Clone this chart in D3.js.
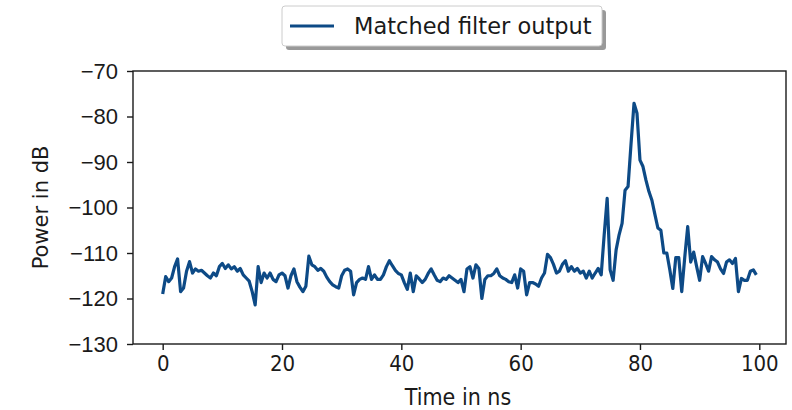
<!DOCTYPE html>
<html>
<head>
<meta charset="utf-8">
<script src="https://cdn.jsdelivr.net/npm/d3@7"></script>
<style>
  html, body { margin: 0; padding: 0; background: #fff; }
  svg { display: block; }
</style>
</head>
<body>
<svg id="chart"></svg>
<script>
// sampled every 0.5 ns, 0 .. 99.5
const sampleStep = 0.5;
const powerDb = [
  -119, -115.2, -116.3, -115.5, -113, -111.3, -118.5, -117.7, -114, -111.9,
  -114.4, -113.5, -114, -113.8, -114.4, -115, -115.5, -114.4, -115, -113,
  -112.3, -113.4, -112.6, -113.5, -113, -114, -113.4, -114.8, -115.5, -116.2,
  -118.5, -121.4, -113, -116.5, -114.4, -115.5, -114.4, -115.8, -116.3, -114.8,
  -114.4, -115, -117.7, -115, -113.5, -116.3, -117.5, -118.5, -117.3, -110.7,
  -112.6, -113, -113.8, -113.4, -114, -115.3, -116.3, -117, -117.4, -117.7,
  -115, -113.8, -113.5, -114, -119.2, -116.5, -115.8, -115.5, -115.8, -113,
  -115.8, -114.8, -115.8, -115.8, -114.8, -113, -111.7, -112.8, -113.8, -114.5,
  -114.8, -116.5, -118, -114.4, -118.5, -115, -115.7, -116.5, -115.8, -114.5,
  -113.5, -114.8, -116, -116.3, -115.5, -115.8, -115, -115.5, -116, -116.5,
  -115.8, -118.5, -113.5, -113, -115.5, -112.6, -113.4, -120, -115.8, -115,
  -115, -114.5, -113.5, -115, -115.5, -115.8, -116.3, -116.5, -114.8, -117.7,
  -113.5, -114, -119.2, -116.5, -116.5, -116.8, -117.3, -115.5, -114.4, -110.3,
  -111, -112.5, -114.4, -114, -112.5, -111.7, -114, -113, -114, -113.4,
  -114.4, -114, -115.5, -114, -115.5, -114.4, -113.4, -114.8, -106, -98,
  -113.7, -116, -109.3, -106, -103.5, -96.2, -95.4, -86, -77.1, -79.3,
  -89.6, -91, -94, -96.5, -98.4, -101.5, -104.5, -105, -110, -110,
  -113.7, -117.8, -111, -111, -118.5, -111, -104.2, -112, -109.8, -113,
  -116, -110.8, -112.3, -114, -110.8, -111.5, -112, -113.5, -114.5, -112,
  -111.5, -112.3, -111.2, -118.5, -115.6, -116, -116, -114, -113.7, -114.8
];
const xTicks = [0, 20, 40, 60, 80, 100];
const yTicks = [-130, -120, -110, -100, -90, -80, -70];
const seriesName = 'Matched filter output';

const width = 792, height = 410;
const plot = { left: 133, right: 786, top: 71, bottom: 344 };
const lineColor = '#0d4a86';
const ink = '#1a1a1a';

const svg = d3.select('#chart')
  .attr('width', width)
  .attr('height', height)
  .style('font-family', 'DejaVu Sans, sans-serif');

const data = powerDb.map((v, i) => ({ t: i * sampleStep, v: v }));
const tMax = d3.max(data, d => d.t);
const pad = tMax * 0.05;

const x = d3.scaleLinear()
  .domain([-pad, tMax + pad])
  .range([plot.left, plot.right]);

const y = d3.scaleLinear()
  .domain([-130, -70])
  .range([plot.bottom, plot.top]);

// line
svg.append('path')
  .datum(data)
  .attr('fill', 'none')
  .attr('stroke', lineColor)
  .attr('stroke-width', 3.2)
  .attr('stroke-linejoin', 'round')
  .attr('d', d3.line().x(d => x(d.t)).y(d => y(d.v)));

// frame
svg.append('rect')
  .attr('x', plot.left)
  .attr('y', plot.top)
  .attr('width', plot.right - plot.left)
  .attr('height', plot.bottom - plot.top)
  .attr('fill', 'none')
  .attr('stroke', ink)
  .attr('stroke-width', 1.4);

const xAxis = svg.append('g')
  .attr('transform', `translate(0,${plot.bottom})`)
  .call(d3.axisBottom(x).tickValues(xTicks).tickSize(6).tickPadding(5).tickFormat(d3.format('d')));
xAxis.select('.domain').remove();
xAxis.selectAll('text')
  .style('font-family', 'DejaVu Sans Condensed, DejaVu Sans, sans-serif')
  .style('font-stretch', 'condensed')
  .style('font-size', '22px')
  .attr('fill', ink);
xAxis.selectAll('line').attr('stroke', ink).attr('stroke-width', 1.4);

const yAxis = svg.append('g')
  .attr('transform', `translate(${plot.left},0)`)
  .call(d3.axisLeft(y).tickValues(yTicks).tickSize(6).tickPadding(9).tickFormat(d3.format('d')));
yAxis.select('.domain').remove();
yAxis.selectAll('text')
  .style('font-size', '22px')
  .attr('fill', ink);
yAxis.selectAll('line').attr('stroke', ink).attr('stroke-width', 1.4);

// axis labels
svg.append('text')
  .attr('x', 458)
  .attr('y', 405)
  .attr('text-anchor', 'middle')
  .style('font-family', 'DejaVu Sans Condensed, DejaVu Sans, sans-serif')
  .style('font-stretch', 'condensed')
  .style('font-size', '23px')
  .attr('fill', ink)
  .text('Time in ns');

svg.append('text')
  .attr('transform', `translate(48,${(plot.top + plot.bottom) / 2}) rotate(-90)`)
  .attr('text-anchor', 'middle')
  .style('font-size', '21px')
  .attr('fill', ink)
  .text('Power in dB');

// legend with shadow
const legend = svg.append('g').attr('transform', 'translate(282,6)');
legend.append('rect')
  .attr('x', 4).attr('y', 4)
  .attr('width', 320).attr('height', 40)
  .attr('rx', 3)
  .attr('fill', '#999');
legend.append('rect')
  .attr('width', 320).attr('height', 40)
  .attr('rx', 3)
  .attr('fill', '#fff')
  .attr('stroke', '#ccc')
  .attr('stroke-width', 1);
legend.append('line')
  .attr('x1', 8).attr('x2', 52)
  .attr('y1', 20).attr('y2', 20)
  .attr('stroke', lineColor)
  .attr('stroke-width', 3.2);
legend.append('text')
  .attr('x', 72).attr('y', 28)
  .style('font-size', '22.5px')
  .attr('fill', ink)
  .text(seriesName);
</script>
</body>
</html>
